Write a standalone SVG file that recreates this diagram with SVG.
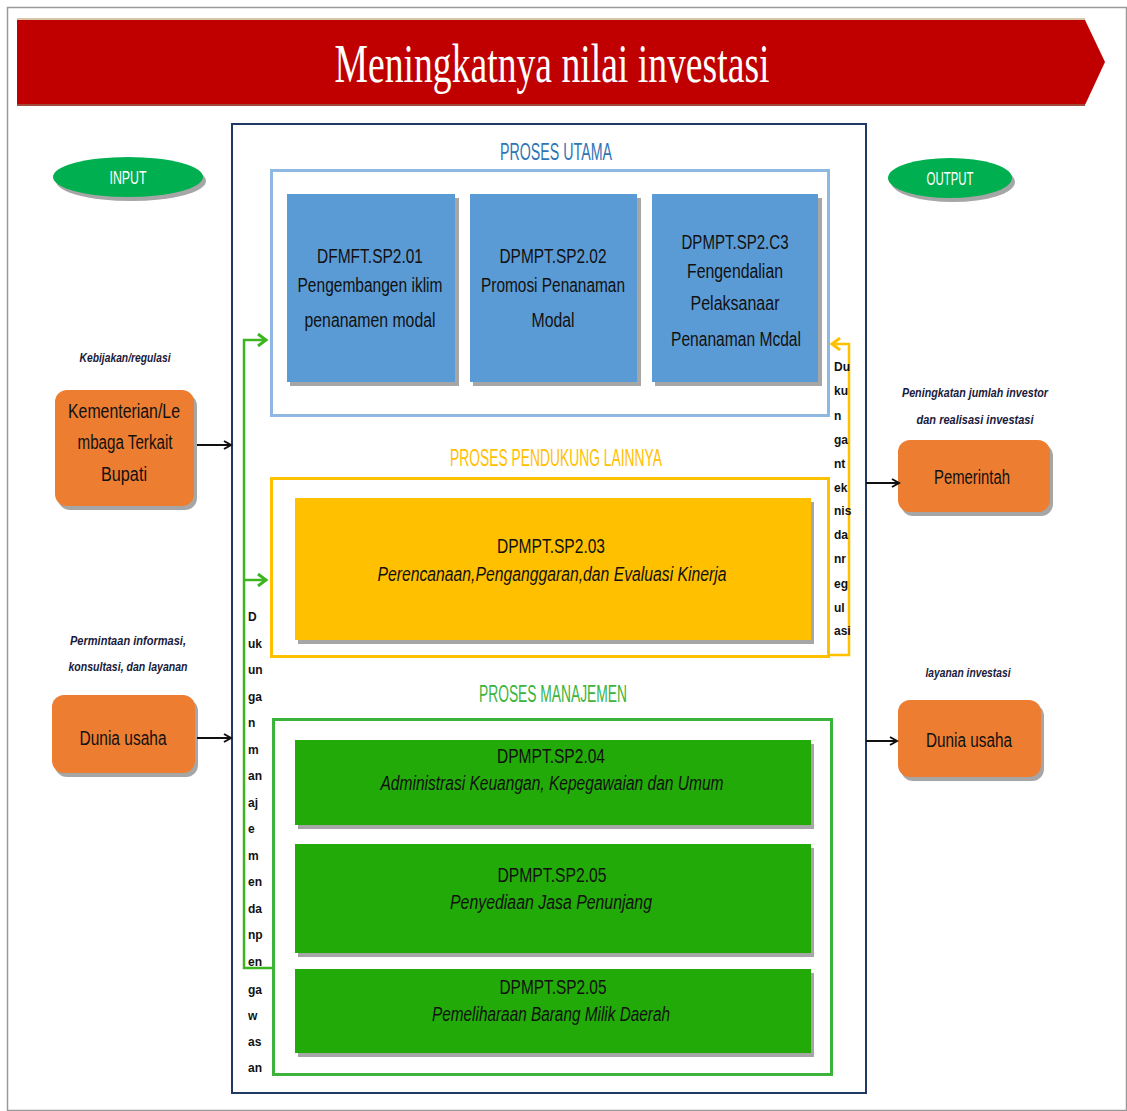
<svg xmlns="http://www.w3.org/2000/svg" width="1127" height="1111" viewBox="0 0 1127 1111">
<style>
.n{font-family:"Liberation Sans Narrow","Liberation Sans",Arial,sans-serif;}
.bx{font-family:"Liberation Sans Narrow","Liberation Sans",Arial,sans-serif;font-size:20px;fill:#111;text-anchor:middle;}
.it{font-style:italic;}
.lab{font-family:"Liberation Sans Narrow","Liberation Sans",Arial,sans-serif;font-size:12px;font-style:italic;font-weight:bold;fill:#1a1a3a;text-anchor:middle;}
.vt{font-family:"Liberation Sans Narrow","Liberation Sans",Arial,sans-serif;font-size:12px;font-weight:bold;fill:#111;}
.sh{fill:#A6A6A6;}
.blue{fill:#5B9BD5;}
.grn{fill:#22AA08;}
.org{fill:#ED7D31;}
.hd{font-family:"Liberation Sans Narrow","Liberation Sans",Arial,sans-serif;font-size:24px;text-anchor:middle;}
.ell{fill:#00B050;}
</style>
<defs>
<marker id="ab" markerWidth="10" markerHeight="10" refX="8" refY="5" orient="auto" markerUnits="userSpaceOnUse"><path d="M1,1 L8,5 L1,9" fill="none" stroke="#111" stroke-width="2"/></marker>
<marker id="ag" markerWidth="14" markerHeight="14" refX="11" refY="7" orient="auto" markerUnits="userSpaceOnUse"><path d="M3,1 L11,7 L3,13" fill="none" stroke="#3CB521" stroke-width="3"/></marker>
<marker id="ay" markerWidth="14" markerHeight="14" refX="11" refY="7" orient="auto" markerUnits="userSpaceOnUse"><path d="M3,1 L11,7 L3,13" fill="none" stroke="#FFC000" stroke-width="3"/></marker>
</defs>
<rect x="0" y="0" width="1127" height="1111" fill="#fff"/>
<rect x="7.5" y="7.5" width="1119" height="1103" fill="none" stroke="#9a9a9a" stroke-width="1.5"/>

<g id="title">
<polygon points="17,20 1085,20 1105,62 1085,105 17,105" fill="#C00000"/>
<line x1="17" y1="19" x2="1085" y2="19" stroke="#D8C4A8" stroke-width="2"/>
<line x1="17" y1="105" x2="1085" y2="105" stroke="#A04A3A" stroke-width="2"/>
<text x="552" y="82" font-family="Liberation Serif,serif" font-size="54" fill="#fff" text-anchor="middle" textLength="435" lengthAdjust="spacingAndGlyphs">Meningkatnya nilai investasi</text>
</g>

<g id="main-frame">
<rect x="232" y="124" width="634" height="969" fill="none" stroke="#1F3864" stroke-width="2"/>
</g>

<g id="proses-utama">
<text class="hd" x="556" y="160" fill="#2E75B6" textLength="112" lengthAdjust="spacingAndGlyphs">PROSES UTAMA</text>
<rect x="271.5" y="170.5" width="557" height="245" fill="none" stroke="#8FB8E0" stroke-width="3"/>
</g>
<g id="sp201">
<rect class="sh" x="290" y="198" width="169" height="188"/>
<rect class="blue" x="287" y="194" width="168" height="188"/>
<text class="bx" x="370" y="263" textLength="106" lengthAdjust="spacingAndGlyphs">DFMFT.SP2.01</text>
<text class="bx" x="370" y="292" textLength="145" lengthAdjust="spacingAndGlyphs">Pengembangen iklim</text>
<text class="bx" x="370" y="327" textLength="131" lengthAdjust="spacingAndGlyphs">penanamen modal</text>
</g>
<g id="sp202">
<rect class="sh" x="473" y="198" width="168" height="188"/>
<rect class="blue" x="470" y="194" width="167" height="188"/>
<text class="bx" x="553" y="263" textLength="107" lengthAdjust="spacingAndGlyphs">DPMPT.SP2.02</text>
<text class="bx" x="553" y="292" textLength="144" lengthAdjust="spacingAndGlyphs">Promosi Penanaman</text>
<text class="bx" x="553" y="327" textLength="43" lengthAdjust="spacingAndGlyphs">Modal</text>
</g>
<g id="sp203a">
<rect class="sh" x="655" y="198" width="167" height="188"/>
<rect class="blue" x="652" y="194" width="166" height="188"/>
<text class="bx" x="735" y="249" textLength="107" lengthAdjust="spacingAndGlyphs">DPMPT.SP2.C3</text>
<text class="bx" x="735" y="278" textLength="96" lengthAdjust="spacingAndGlyphs">Fengendalian</text>
<text class="bx" x="735" y="310" textLength="89" lengthAdjust="spacingAndGlyphs">Pelaksanaar</text>
<text class="bx" x="736" y="346" textLength="130" lengthAdjust="spacingAndGlyphs">Penanaman Mcdal</text>
</g>

<g id="proses-pendukung">
<text class="hd" x="556" y="466" fill="#FFC000" textLength="212" lengthAdjust="spacingAndGlyphs">PROSES PENDUKUNG LAINNYA</text>
<rect x="271.5" y="478.5" width="557" height="178" fill="none" stroke="#FFC000" stroke-width="3"/>
</g>
<g id="sp203b">
<rect class="sh" x="298" y="502" width="516" height="142"/>
<rect x="295" y="498" width="516" height="142" fill="#FFC000"/>
<text class="bx" x="551" y="553" textLength="108" lengthAdjust="spacingAndGlyphs">DPMPT.SP2.03</text>
<text class="bx it" x="552" y="581" textLength="349" lengthAdjust="spacingAndGlyphs">Perencanaan,Penganggaran,dan Evaluasi Kinerja</text>
</g>

<g id="proses-manajemen">
<text class="hd" x="553" y="702" fill="#3CB43C" textLength="148" lengthAdjust="spacingAndGlyphs">PROSES MANAJEMEN</text>
<rect x="273.5" y="719.5" width="558" height="355" fill="none" stroke="#3CB43C" stroke-width="3"/>
</g>
<g id="sp204">
<rect class="sh" x="298" y="744" width="516" height="85"/>
<rect class="grn" x="295" y="740" width="516" height="85"/>
<text class="bx" x="551" y="763" textLength="108" lengthAdjust="spacingAndGlyphs">DPMPT.SP2.04</text>
<text class="bx it" x="552" y="790" textLength="343" lengthAdjust="spacingAndGlyphs">Administrasi Keuangan, Kepegawaian dan Umum</text>
</g>
<g id="sp205a">
<rect class="sh" x="298" y="848" width="516" height="109"/>
<rect class="grn" x="295" y="844" width="516" height="109"/>
<text class="bx" x="552" y="882" textLength="109" lengthAdjust="spacingAndGlyphs">DPMPT.SP2.05</text>
<text class="bx it" x="551" y="909" textLength="202" lengthAdjust="spacingAndGlyphs">Penyediaan Jasa Penunjang</text>
</g>
<g id="sp205b">
<rect class="sh" x="298" y="973" width="516" height="84"/>
<rect class="grn" x="295" y="969" width="516" height="84"/>
<text class="bx" x="553" y="994" textLength="107" lengthAdjust="spacingAndGlyphs">DPMPT.SP2.05</text>
<text class="bx it" x="551" y="1021" textLength="238" lengthAdjust="spacingAndGlyphs">Pemeliharaan Barang Milik Daerah</text>
</g>

<g id="input">
<ellipse cx="131" cy="181" rx="75" ry="20" class="sh"/>
<ellipse cx="128" cy="177" rx="75" ry="20" class="ell"/>
<text class="n" x="128" y="184" font-size="18" fill="#fff" text-anchor="middle" textLength="37" lengthAdjust="spacingAndGlyphs">INPUT</text>
</g>
<g id="output">
<ellipse cx="953" cy="182" rx="62" ry="20" class="sh"/>
<ellipse cx="950" cy="178" rx="62" ry="20" class="ell"/>
<text class="n" x="950" y="185" font-size="18" fill="#fff" text-anchor="middle" textLength="47" lengthAdjust="spacingAndGlyphs">OUTPUT</text>
</g>

<g id="kementerian">
<text class="lab" x="125" y="362" textLength="91" lengthAdjust="spacingAndGlyphs">Kebijakan/regulasi</text>
<rect class="sh" x="58" y="394" width="139" height="116" rx="12"/>
<rect class="org" x="55" y="390" width="139" height="116" rx="12"/>
<text class="bx" x="124" y="418" textLength="112" lengthAdjust="spacingAndGlyphs">Kementerian/Le</text>
<text class="bx" x="125" y="449" textLength="95" lengthAdjust="spacingAndGlyphs">mbaga Terkait</text>
<text class="bx" x="124" y="481" textLength="46" lengthAdjust="spacingAndGlyphs">Bupati</text>
</g>
<g id="dunia-usaha-in">
<text class="lab" x="128" y="645" textLength="116" lengthAdjust="spacingAndGlyphs">Permintaan  informasi,</text>
<text class="lab" x="128" y="671" textLength="119" lengthAdjust="spacingAndGlyphs">konsultasi, dan layanan</text>
<rect class="sh" x="55" y="699" width="143" height="78" rx="12"/>
<rect class="org" x="52" y="695" width="143" height="78" rx="12"/>
<text class="bx" x="123" y="745" textLength="87" lengthAdjust="spacingAndGlyphs">Dunia usaha</text>
</g>
<g id="pemerintah">
<text class="lab" x="975" y="397" textLength="146" lengthAdjust="spacingAndGlyphs">Peningkatan  jumlah  investor</text>
<text class="lab" x="975" y="424" textLength="117" lengthAdjust="spacingAndGlyphs">dan realisasi investasi</text>
<rect class="sh" x="901" y="444" width="152" height="72" rx="12"/>
<rect class="org" x="898" y="440" width="152" height="72" rx="12"/>
<text class="bx" x="972" y="484" textLength="76" lengthAdjust="spacingAndGlyphs">Pemerintah</text>
</g>
<g id="dunia-usaha-out">
<text class="lab" x="968" y="677" textLength="85" lengthAdjust="spacingAndGlyphs">layanan investasi</text>
<rect class="sh" x="901" y="704" width="143" height="77" rx="12"/>
<rect class="org" x="898" y="700" width="143" height="77" rx="12"/>
<text class="bx" x="969" y="747" textLength="86" lengthAdjust="spacingAndGlyphs">Dunia usaha</text>
</g>

<g id="connectors">
<line x1="197" y1="445" x2="231" y2="445" stroke="#111" stroke-width="2" marker-end="url(#ab)"/>
<line x1="197" y1="738" x2="231" y2="738" stroke="#111" stroke-width="2" marker-end="url(#ab)"/>
<line x1="866" y1="483" x2="899" y2="483" stroke="#111" stroke-width="2" marker-end="url(#ab)"/>
<line x1="866" y1="741" x2="897" y2="741" stroke="#111" stroke-width="2" marker-end="url(#ab)"/>
<polyline points="273,968 244,968 244,340 266,340" fill="none" stroke="#3CB521" stroke-width="2.5" marker-end="url(#ag)"/>
<line x1="244" y1="580" x2="266" y2="580" stroke="#3CB521" stroke-width="2.5" marker-end="url(#ag)"/>
<polyline points="829,655 849,655 849,344 832,344" fill="none" stroke="#FFC000" stroke-width="2.5" marker-end="url(#ay)"/>
</g>

<g id="label-dukungan-manajemen">
<text class="vt" x="248" y="621">D</text>
<text class="vt" x="248" y="648">uk</text>
<text class="vt" x="248" y="674">un</text>
<text class="vt" x="248" y="701">ga</text>
<text class="vt" x="248" y="727">n</text>
<text class="vt" x="248" y="754">m</text>
<text class="vt" x="248" y="780">an</text>
<text class="vt" x="248" y="807">aj</text>
<text class="vt" x="248" y="833">e</text>
<text class="vt" x="248" y="860">m</text>
<text class="vt" x="248" y="886">en</text>
<text class="vt" x="248" y="913">da</text>
<text class="vt" x="248" y="939">np</text>
<text class="vt" x="248" y="966">en</text>
<text class="vt" x="248" y="994">ga</text>
<text class="vt" x="248" y="1020">w</text>
<text class="vt" x="248" y="1046">as</text>
<text class="vt" x="248" y="1072">an</text>
</g>
<g id="label-dukungan-teknis">
<text class="vt" x="834" y="371">Du</text>
<text class="vt" x="834" y="395">ku</text>
<text class="vt" x="834" y="420">n</text>
<text class="vt" x="834" y="444">ga</text>
<text class="vt" x="834" y="468">nt</text>
<text class="vt" x="834" y="492">ek</text>
<text class="vt" x="834" y="515">nis</text>
<text class="vt" x="834" y="539">da</text>
<text class="vt" x="834" y="563">nr</text>
<text class="vt" x="834" y="588">eg</text>
<text class="vt" x="834" y="612">ul</text>
<text class="vt" x="834" y="635">asi</text>
</g>
</svg>
